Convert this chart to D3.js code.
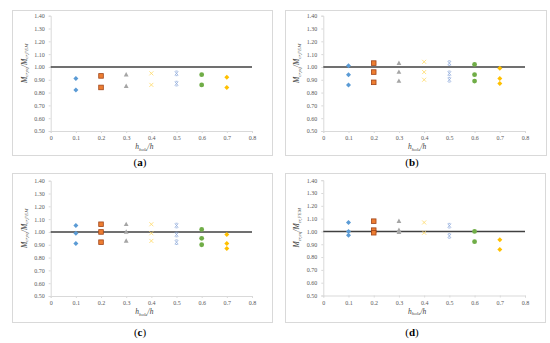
<!DOCTYPE html>
<html>
<head>
<meta charset="utf-8">
<script src="https://cdn.jsdelivr.net/npm/d3@7"></script>
<style>
  body { margin: 0; background: #fff; }
  svg { display: block; }
</style>
</head>
<body>
<script>

    // x positions (h_hole/h) of the seven series
    var holeRatios = [0.1, 0.2, 0.3, 0.4, 0.5, 0.6, 0.7];

    // M_cr,eq / M_cr,FEM values, one list per series
    var panelA = [[0.91, 0.82], [0.93, 0.84], [0.94, 0.85], [0.95, 0.86], [0.95, 0.87], [0.94, 0.86], [0.92, 0.84]];
    var panelB = [[1.01, 0.94, 0.86], [1.03, 0.96, 0.88], [1.03, 0.96, 0.89], [1.04, 0.96, 0.90], [1.03, 0.95, 0.90], [1.02, 0.94, 0.89], [0.99, 0.91, 0.87]];
    var panelC = [[1.05, 0.99, 0.91], [1.06, 1.00, 0.92], [1.06, 1.00, 0.93], [1.06, 0.99, 0.93], [1.05, 0.98, 0.92], [1.02, 0.95, 0.90], [0.98, 0.91, 0.87]];
    var panelD = [[1.07, 1.00, 0.97], [1.08, 1.01, 0.99], [1.08, 1.01, 0.995], [1.07, 0.99], [1.045, 0.965], [1.00, 0.92], [0.935, 0.86]];

    var panelLabels = ["(a)", "(b)", "(c)", "(d)"];
    var xTicks = [0, 0.1, 0.2, 0.3, 0.4, 0.5, 0.6, 0.7, 0.8];
    var yTicks = [0.5, 0.6, 0.7, 0.8, 0.9, 1.0, 1.1, 1.2, 1.3, 1.4];

    var colors = ["#5B9BD5", "#ED7D31", "#A5A5A5", "#FFD966", "#8EA9DB", "#70AD47", "#FFC000"];
    var shapes = ["diamond", "square", "triangle", "x", "star", "circle", "diamond"];

    var svg = d3.select("body").append("svg")
        .attr("width", 550)
        .attr("height", 343);

    // box = frame of each panel, plot = inner plotting area
    var layout = [
        {box: [12, 10, 260, 145], plot: [50.7, 15.7, 252, 131], label: [140, 166]},
        {box: [285, 10, 261, 145], plot: [323.3, 15.7, 525, 131], label: [412, 166]},
        {box: [12, 173, 260, 149], plot: [50.7, 180.7, 252, 296], label: [140, 336]},
        {box: [285, 173, 260, 149], plot: [323.3, 180.2, 525, 295.5], label: [412, 336]}
    ];

    var panels = [panelA, panelB, panelC, panelD];

    panels.forEach(function(series, p) {
        var L = layout[p];
        var g = svg.append("g");

        g.append("rect")
            .attr("x", L.box[0] + 0.5).attr("y", L.box[1] + 0.5)
            .attr("width", L.box[2]).attr("height", L.box[3])
            .attr("fill", "#fff").attr("stroke", "#D9D9D9");

        var x = d3.scaleLinear().domain([0, 0.8]).range([L.plot[0], L.plot[2]]);
        var y = d3.scaleLinear().domain([0.5, 1.4]).range([L.plot[3], L.plot[1]]);

        var yAxis = d3.axisLeft(y).tickValues(yTicks).tickSize(2).tickFormat(d3.format(".2f"));
        var xAxis = d3.axisBottom(x).tickValues(xTicks).tickSize(2).tickFormat(function(d) { return d === 0 ? "0" : d3.format(".1f")(d); });

        var ya = g.append("g").attr("transform", "translate(" + L.plot[0] + ",0)").call(yAxis);
        var xa = g.append("g").attr("transform", "translate(0," + L.plot[3] + ")").call(xAxis);

        [ya, xa].forEach(function(a) {
            a.select(".domain").attr("stroke", "#D9D9D9");
            a.selectAll(".tick line").attr("stroke", "#D9D9D9");
            a.selectAll(".tick text")
                .attr("fill", "#595959")
                .style("font-family", "Liberation Serif")
                .style("font-size", "6px");
        });
        ya.selectAll(".tick text").attr("x", -6);
        xa.selectAll(".tick text").attr("y", 5);

        // reference line at 1.00
        g.append("line")
            .attr("x1", x(0)).attr("x2", x(0.8))
            .attr("y1", y(1)).attr("y2", y(1))
            .attr("stroke", "#404040").attr("stroke-width", 1.5);

        // markers
        series.forEach(function(vals, i) {
            var sg = g.append("g");
            vals.forEach(function(v) {
                var cx = x(holeRatios[i]), cy = y(v);
                var c = colors[i];
                var shp = shapes[i];
                if (shp === "diamond") {
                    sg.append("path").attr("d", "M0,-2.5L2.5,0L0,2.5L-2.5,0Z")
                        .attr("transform", "translate(" + cx + "," + cy + ")").attr("fill", c);
                } else if (shp === "square") {
                    sg.append("rect").attr("x", cx - 2.3).attr("y", cy - 2.3).attr("width", 4.6).attr("height", 4.6)
                        .attr("fill", c).attr("stroke", "#A0451A").attr("stroke-width", 0.8);
                } else if (shp === "triangle") {
                    sg.append("path").attr("d", "M0,-2.6L2.4,1.8L-2.4,1.8Z")
                        .attr("transform", "translate(" + cx + "," + cy + ")").attr("fill", c);
                } else if (shp === "x") {
                    sg.append("path").attr("d", "M-2,-2L2,2M-2,2L2,-2")
                        .attr("transform", "translate(" + cx + "," + cy + ")")
                        .attr("stroke", c).attr("stroke-width", 0.8).attr("fill", "none");
                } else if (shp === "star") {
                    sg.append("path").attr("d", "M-1.7,-2L1.7,2M-1.7,2L1.7,-2M-1.1,-2.3L1.1,-2.3M-1.1,2.3L1.1,2.3")
                        .attr("transform", "translate(" + cx + "," + cy + ")")
                        .attr("stroke", c).attr("stroke-width", 0.8).attr("fill", "none");
                } else {
                    sg.append("circle").attr("cx", cx).attr("cy", cy).attr("r", 2.4).attr("fill", c);
                }
            });
        });

        // y axis title
        var ymid = (L.plot[1] + L.plot[3]) / 2 - 10;
        var yt = g.append("text")
            .attr("transform", "translate(" + (L.plot[0] - 24) + "," + ymid + ") rotate(-90)")
            .attr("text-anchor", "middle")
            .style("font-family", "Liberation Serif")
            .style("font-size", "7.5px")
            .style("font-style", "italic")
            .attr("fill", "#404040");
        yt.append("tspan").text("M");
        yt.append("tspan").attr("dy", 1.5).style("font-size", "5px").text("cr,eq");
        yt.append("tspan").attr("dy", -1.5).text("/M");
        yt.append("tspan").attr("dy", 1.5).style("font-size", "5px").text("cr,FEM");

        // x axis title
        var xt = g.append("text")
            .attr("x", (L.plot[0] + L.plot[2]) / 2 - 7)
            .attr("y", L.plot[3] + 18)
            .attr("text-anchor", "middle")
            .style("font-family", "Liberation Serif")
            .style("font-size", "7.5px")
            .style("font-style", "italic")
            .attr("fill", "#404040");
        xt.append("tspan").text("h");
        xt.append("tspan").attr("dy", 1.5).style("font-size", "5px").text("hole");
        xt.append("tspan").attr("dy", -1.5).text("/h");

        // panel label
        var pl = svg.append("text")
            .attr("x", L.label[0]).attr("y", L.label[1])
            .attr("text-anchor", "middle")
            .style("font-family", "Liberation Serif")
            .style("font-size", "11px")
            .attr("fill", "#000");
        pl.append("tspan").text("(");
        pl.append("tspan").style("font-weight", "bold").text(panelLabels[p].charAt(1));
        pl.append("tspan").text(")");
    });

</script>
</body>
</html>
